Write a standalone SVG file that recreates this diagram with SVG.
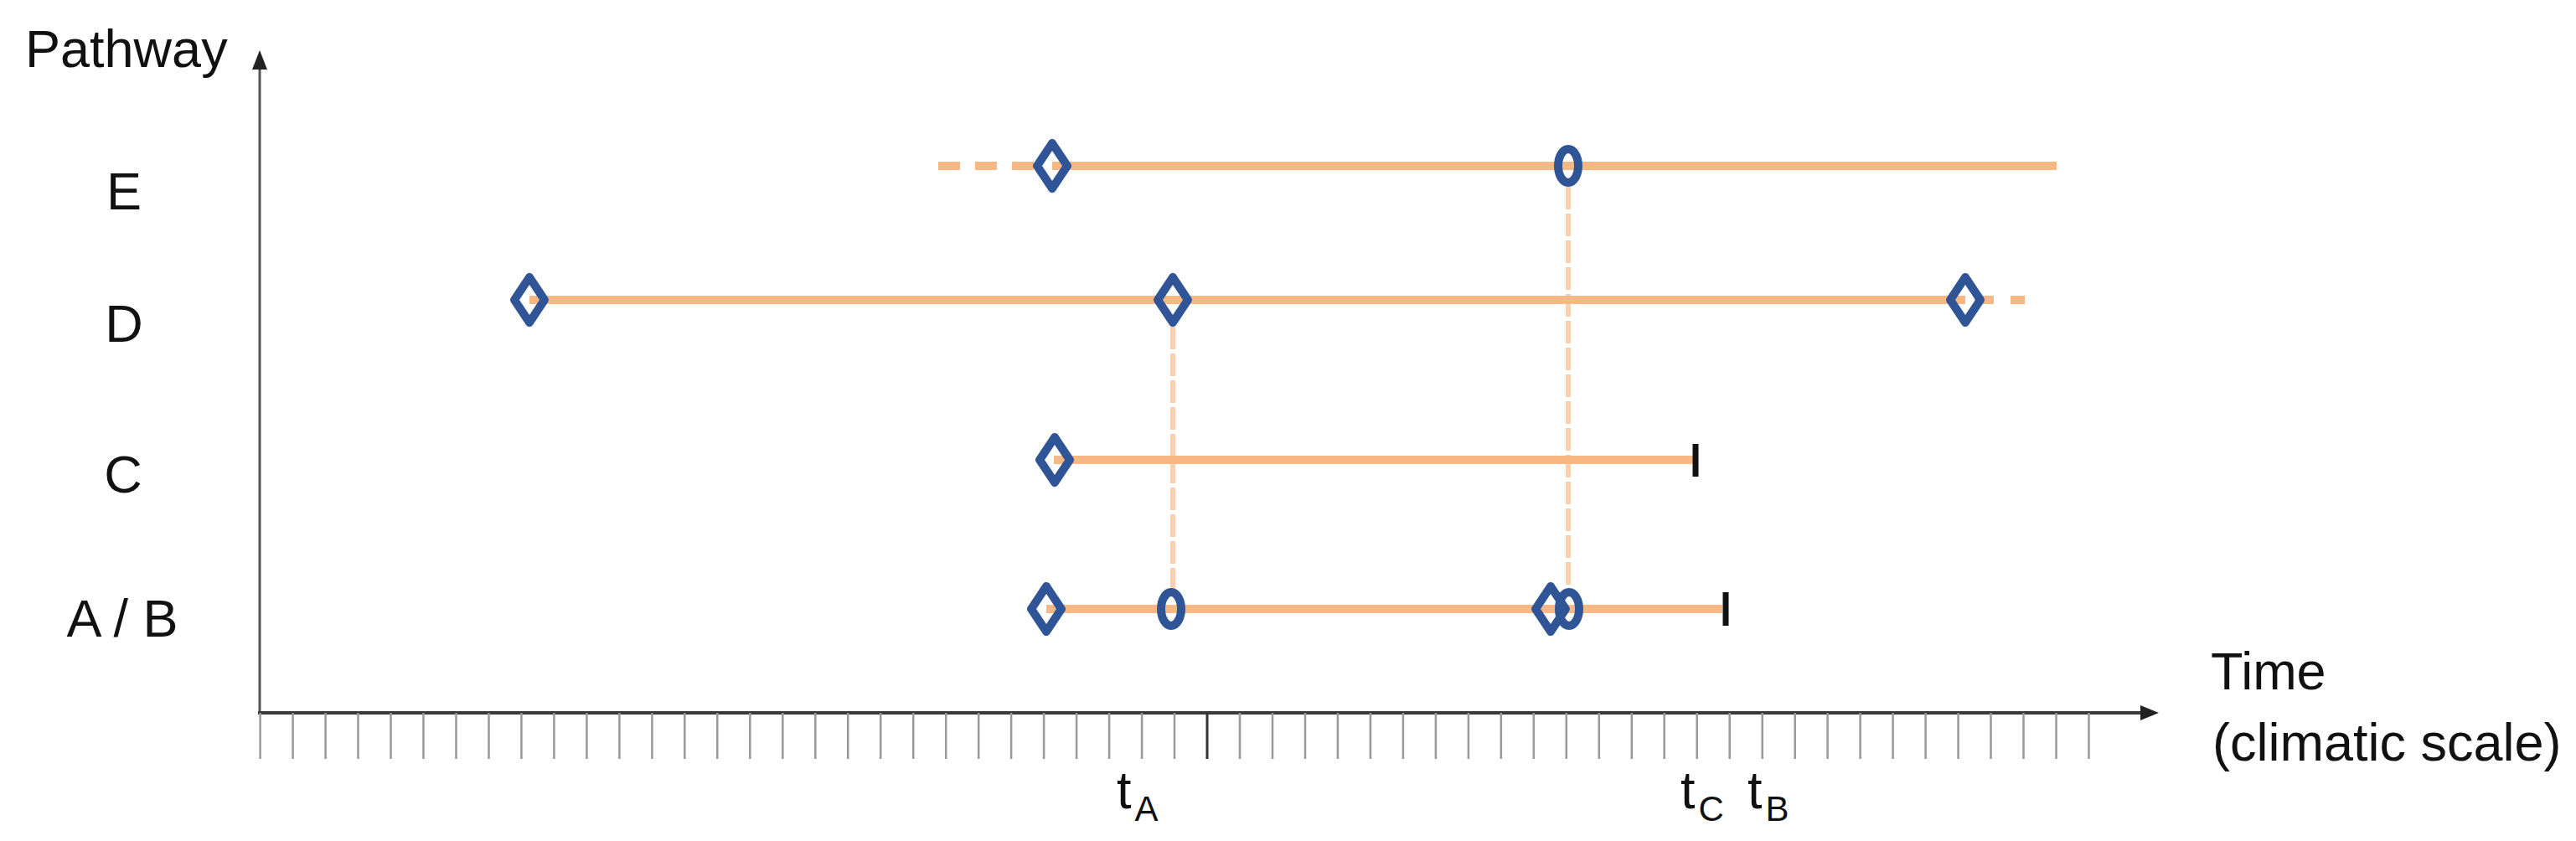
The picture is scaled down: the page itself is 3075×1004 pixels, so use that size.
<svg xmlns="http://www.w3.org/2000/svg" xmlns:xlink="http://www.w3.org/1999/xlink" width="3075" height="1004" viewBox="0 0 3075 1004">
<style>
text{font-family:"Liberation Sans",Arial,sans-serif;font-size:63px;fill:#111}
.lbl{text-anchor:middle}
.sub{font-size:42px}
.mk{fill:none;stroke:#2F5597;stroke-width:10;stroke-linejoin:round}
.ln{stroke:#F7B886;stroke-width:10;fill:none}
.lnd{stroke:#F7B886;stroke-width:10;fill:none;stroke-dasharray:26 18}
.vd{stroke:#F9D0B0;stroke-width:6;fill:none;stroke-dasharray:27 5}
.bar{stroke:#111;stroke-width:7}
.tk{stroke:#999;stroke-width:2.5}
</style>
<defs>
<path id="dia" d="M0,-27 L18,0 L0,27 L-18,0 Z" class="mk"/>
<ellipse id="cir" cx="0" cy="0" rx="12" ry="20" class="mk"/>
</defs>
<rect width="3075" height="1004" fill="#fff"/>

<g id="axes">
<line x1="310" y1="851" x2="310" y2="82" stroke="#555" stroke-width="3"/>
<path d="M310,60 L319,83 L301,83 Z" fill="#222"/>
<line x1="308" y1="851" x2="2556" y2="851" stroke="#3a3a3a" stroke-width="4"/>
<path d="M2577,851 L2555,842 L2555,860 Z" fill="#222"/>
<g id="ticks">
<line class="tk" x1="310.6" y1="851" x2="310.6" y2="906"/>
<line class="tk" x1="349.6" y1="851" x2="349.6" y2="906"/>
<line class="tk" x1="388.6" y1="851" x2="388.6" y2="906"/>
<line class="tk" x1="427.5" y1="851" x2="427.5" y2="906"/>
<line class="tk" x1="466.5" y1="851" x2="466.5" y2="906"/>
<line class="tk" x1="505.5" y1="851" x2="505.5" y2="906"/>
<line class="tk" x1="544.5" y1="851" x2="544.5" y2="906"/>
<line class="tk" x1="583.5" y1="851" x2="583.5" y2="906"/>
<line class="tk" x1="622.4" y1="851" x2="622.4" y2="906"/>
<line class="tk" x1="661.4" y1="851" x2="661.4" y2="906"/>
<line class="tk" x1="700.4" y1="851" x2="700.4" y2="906"/>
<line class="tk" x1="739.4" y1="851" x2="739.4" y2="906"/>
<line class="tk" x1="778.4" y1="851" x2="778.4" y2="906"/>
<line class="tk" x1="817.3" y1="851" x2="817.3" y2="906"/>
<line class="tk" x1="856.3" y1="851" x2="856.3" y2="906"/>
<line class="tk" x1="895.3" y1="851" x2="895.3" y2="906"/>
<line class="tk" x1="934.3" y1="851" x2="934.3" y2="906"/>
<line class="tk" x1="973.3" y1="851" x2="973.3" y2="906"/>
<line class="tk" x1="1012.2" y1="851" x2="1012.2" y2="906"/>
<line class="tk" x1="1051.2" y1="851" x2="1051.2" y2="906"/>
<line class="tk" x1="1090.2" y1="851" x2="1090.2" y2="906"/>
<line class="tk" x1="1129.2" y1="851" x2="1129.2" y2="906"/>
<line class="tk" x1="1168.2" y1="851" x2="1168.2" y2="906"/>
<line class="tk" x1="1207.1" y1="851" x2="1207.1" y2="906"/>
<line class="tk" x1="1246.1" y1="851" x2="1246.1" y2="906"/>
<line class="tk" x1="1285.1" y1="851" x2="1285.1" y2="906"/>
<line class="tk" x1="1324.1" y1="851" x2="1324.1" y2="906"/>
<line class="tk" x1="1363.1" y1="851" x2="1363.1" y2="906"/>
<line class="tk" x1="1402.0" y1="851" x2="1402.0" y2="906"/>
<line x1="1441.0" y1="851" x2="1441.0" y2="906" stroke="#333" stroke-width="3"/>
<line class="tk" x1="1480.0" y1="851" x2="1480.0" y2="906"/>
<line class="tk" x1="1519.0" y1="851" x2="1519.0" y2="906"/>
<line class="tk" x1="1558.0" y1="851" x2="1558.0" y2="906"/>
<line class="tk" x1="1596.9" y1="851" x2="1596.9" y2="906"/>
<line class="tk" x1="1635.9" y1="851" x2="1635.9" y2="906"/>
<line class="tk" x1="1674.9" y1="851" x2="1674.9" y2="906"/>
<line class="tk" x1="1713.9" y1="851" x2="1713.9" y2="906"/>
<line class="tk" x1="1752.9" y1="851" x2="1752.9" y2="906"/>
<line class="tk" x1="1791.8" y1="851" x2="1791.8" y2="906"/>
<line class="tk" x1="1830.8" y1="851" x2="1830.8" y2="906"/>
<line class="tk" x1="1869.8" y1="851" x2="1869.8" y2="906"/>
<line class="tk" x1="1908.8" y1="851" x2="1908.8" y2="906"/>
<line class="tk" x1="1947.8" y1="851" x2="1947.8" y2="906"/>
<line class="tk" x1="1986.7" y1="851" x2="1986.7" y2="906"/>
<line class="tk" x1="2025.7" y1="851" x2="2025.7" y2="906"/>
<line class="tk" x1="2064.7" y1="851" x2="2064.7" y2="906"/>
<line class="tk" x1="2103.7" y1="851" x2="2103.7" y2="906"/>
<line class="tk" x1="2142.7" y1="851" x2="2142.7" y2="906"/>
<line class="tk" x1="2181.6" y1="851" x2="2181.6" y2="906"/>
<line class="tk" x1="2220.6" y1="851" x2="2220.6" y2="906"/>
<line class="tk" x1="2259.6" y1="851" x2="2259.6" y2="906"/>
<line class="tk" x1="2298.6" y1="851" x2="2298.6" y2="906"/>
<line class="tk" x1="2337.6" y1="851" x2="2337.6" y2="906"/>
<line class="tk" x1="2376.5" y1="851" x2="2376.5" y2="906"/>
<line class="tk" x1="2415.5" y1="851" x2="2415.5" y2="906"/>
<line class="tk" x1="2454.5" y1="851" x2="2454.5" y2="906"/>
<line class="tk" x1="2493.5" y1="851" x2="2493.5" y2="906"/>
</g>
</g>

<g id="axis-labels">
<text x="30" y="80">Pathway</text>
<text x="2639" y="823">Time</text>
<text x="2641" y="908">(climatic scale)</text>
<text x="1333" y="965">t<tspan class="sub" dx="4" dy="15">A</tspan></text>
<text x="2006" y="965">t<tspan class="sub" dx="4" dy="15">C</tspan></text>
<text x="2086" y="965">t<tspan class="sub" dx="4" dy="15">B</tspan></text>
</g>

<g id="row-labels">
<text class="lbl" x="148" y="250">E</text>
<text class="lbl" x="148" y="408">D</text>
<text class="lbl" x="147" y="588">C</text>
<text class="lbl" x="146" y="760">A / B</text>
</g>

<g id="connectors">
<line class="vd" x1="1400" y1="390" x2="1400" y2="703"/>
<line class="vd" x1="1872" y1="223" x2="1872" y2="705"/>
</g>

<g id="pathway-E">
<line class="lnd" x1="1120" y1="198" x2="1238" y2="198"/>
<line class="ln" x1="1256" y1="198" x2="2455" y2="198"/>
<use xlink:href="#dia" x="1256" y="198"/>
<use xlink:href="#cir" x="1872" y="198"/>
</g>

<g id="pathway-D">
<line class="ln" x1="632" y1="358" x2="2346" y2="358"/>
<line class="ln" x1="2357" y1="358" x2="2380" y2="358"/>
<line class="ln" x1="2400" y1="358" x2="2417" y2="358"/>
<use xlink:href="#dia" x="632" y="358"/>
<use xlink:href="#dia" x="1400" y="358"/>
<use xlink:href="#dia" x="2346" y="358"/>
</g>

<g id="pathway-C">
<line class="ln" x1="1258" y1="549" x2="2022" y2="549"/>
<line class="bar" x1="2024" y1="530" x2="2024" y2="569"/>
<use xlink:href="#dia" x="1259" y="549"/>
</g>

<g id="pathway-AB">
<line class="ln" x1="1249" y1="727" x2="2056" y2="727"/>
<line class="bar" x1="2060" y1="707" x2="2060" y2="747"/>
<use xlink:href="#dia" x="1249" y="727"/>
<use xlink:href="#cir" x="1398" y="727"/>
<use xlink:href="#dia" x="1851" y="727"/>
<use xlink:href="#cir" x="1873" y="727"/>
</g>
</svg>
